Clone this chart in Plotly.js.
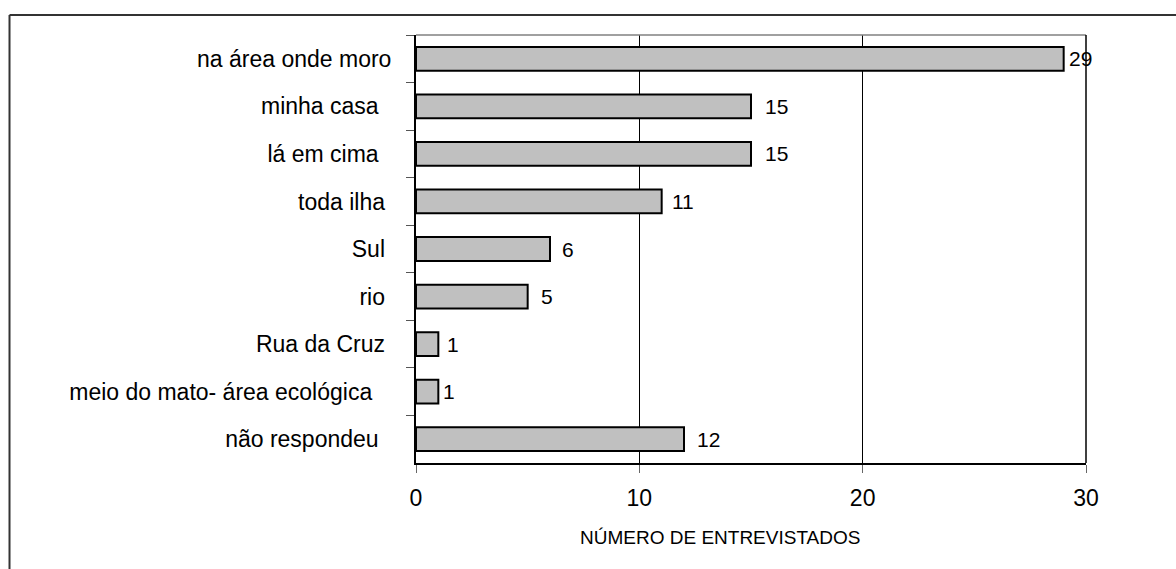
<!DOCTYPE html>
<html>
<head>
<meta charset="utf-8">
<script src="https://cdn.plot.ly/plotly-3.0.1.min.js"></script>
<style>
html, body { margin: 0; padding: 0; background: #ffffff; }
#chart { width: 1176px; height: 569px; }
</style>
</head>
<body>
<div id="chart"></div>
<script>
// Data
const categories = [
  "na área onde moro",
  "minha casa\u00a0\u00a0",
  "lá em cima\u00a0\u00a0",
  "toda ilha\u00a0",
  "Sul\u00a0",
  "rio\u00a0",
  "Rua da Cruz\u00a0",
  "meio do mato- área ecológica\u00a0\u00a0\u00a0",
  "não respondeu\u00a0\u00a0"
];
const counts = [29, 15, 15, 11, 6, 5, 1, 1, 12];
const xTickValues = [0, 10, 20, 30];
const xTitle = "NÚMERO DE ENTREVISTADOS";
// label offsets (pixels) to the right of each bar end
const labelGaps = [3, 12, 12, 8, 10, 11, 7, 3, 11];

const FONT = '"Liberation Sans", Arial, sans-serif';

const trace = {
  type: 'bar',
  orientation: 'h',
  x: counts,
  y: categories,
  marker: { color: '#c0c0c0', line: { color: '#000000', width: 2 } },
  hoverinfo: 'none',
  cliponaxis: false
};

const annotations = counts.map((v, i) => ({
  x: v, y: categories[i], xref: 'x', yref: 'y',
  text: String(v), showarrow: false,
  xanchor: 'left', yanchor: 'middle', xshift: labelGaps[i],
  font: { family: FONT, size: 21, color: '#000' }
}));
// x-axis title, placed as in the reference (slightly left of centre)
annotations.push({
  xref: 'paper', yref: 'paper', x: 0.454, y: -0.173,
  xanchor: 'center', yanchor: 'middle', showarrow: false,
  text: xTitle, font: { family: FONT, size: 19, color: '#000' }
});

const layout = {
  width: 1176, height: 569,
  margin: { l: 416, r: 90, t: 35, b: 106, pad: 0 },
  paper_bgcolor: '#ffffff', plot_bgcolor: '#ffffff',
  font: { family: FONT, color: '#000' },
  showlegend: false,
  bargap: 0.5,
  xaxis: {
    range: [0, 30],
    tickvals: xTickValues,
    ticktext: xTickValues.map(String),
    showgrid: true, gridcolor: '#000000', gridwidth: 1,
    zeroline: false,
    showline: true, linecolor: '#000000', linewidth: 1.5,
    ticks: 'outside', ticklen: 8, tickcolor: '#666', tickwidth: 1,
    tickfont: { family: FONT, size: 23, color: '#000' },
    ticklabelstandoff: 6
  },
  yaxis: {
    type: 'category',
    categoryorder: 'array', categoryarray: categories,
    autorange: 'reversed',
    tickson: 'boundaries',
    showgrid: false, zeroline: false,
    showline: true, linecolor: '#000000', linewidth: 2,
    ticks: 'outside', ticklen: 8, tickcolor: '#555', tickwidth: 1,
    tickfont: { family: FONT, size: 23, color: '#000' },
    ticklabelstandoff: 18
  },
  annotations: annotations,
  shapes: [
    // top edge of plot area (grey)
    { type: 'line', xref: 'paper', yref: 'paper', x0: 0, x1: 1, y0: 1, y1: 1,
      line: { color: '#808080', width: 1.5 } },
    // right edge of plot area
    { type: 'line', xref: 'paper', yref: 'paper', x0: 1, x1: 1, y0: 0, y1: 1,
      line: { color: '#000000', width: 1.5 } },
    // outer chart frame: left and top edges
    { type: 'line', xref: 'paper', yref: 'paper', x0: -0.6067, x1: -0.6067, y0: -0.4, y1: 1.0467,
      line: { color: '#333333', width: 2 } },
    { type: 'line', xref: 'paper', yref: 'paper', x0: -0.6067, x1: 1.3, y0: 1.0467, y1: 1.0467,
      line: { color: '#333333', width: 2 } }
  ]
};

Plotly.newPlot('chart', [trace], layout, { displayModeBar: false, staticPlot: true });
</script>
</body>
</html>
